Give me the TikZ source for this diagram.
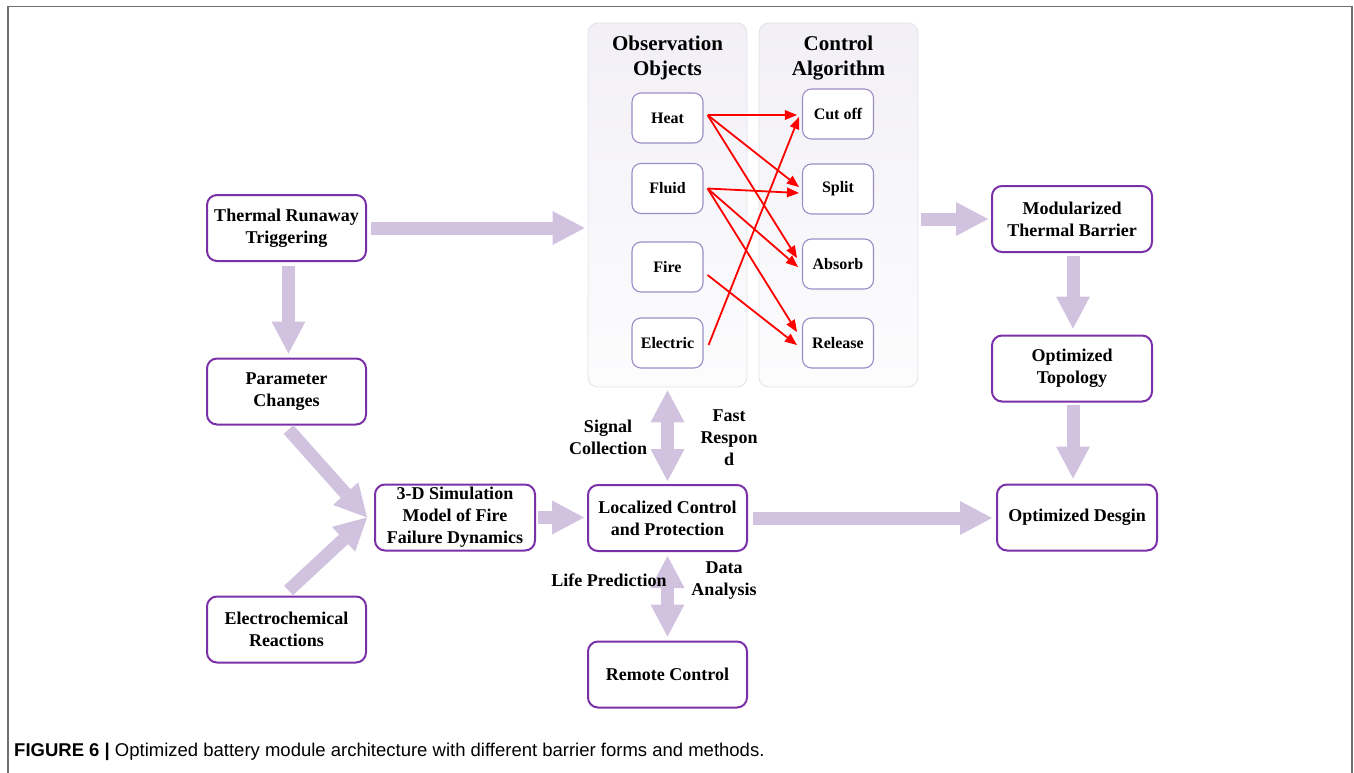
\documentclass[tikz,border=0pt]{standalone}
\usepackage{fontspec}
\setmainfont{Liberation Serif}
\newfontfamily\capfont{Liberation Sans}
\usetikzlibrary{arrows.meta}

\definecolor{boxpurple}{HTML}{7A30A8}
\definecolor{smallbd}{HTML}{9D8CC6}
\definecolor{flowlav}{HTML}{D1C3DF}
\definecolor{panelbd}{HTML}{E3E1E8}
\definecolor{paneltop}{HTML}{F2F0F6}
\definecolor{panelmid}{HTML}{E9E4F0}
\definecolor{panelbot}{HTML}{FCFCFD}
\definecolor{framegray}{HTML}{707070}

\tikzset{
  mainbox/.style={draw=boxpurple, line width=2pt, rounded corners=10pt, fill=white,
    minimum width=159pt, minimum height=66pt, align=center, inner sep=1pt,
    font=\fontsize{18}{22}\selectfont\bfseries},
  smallbox/.style={draw=smallbd, line width=1.1pt, rounded corners=9pt, fill=white,
    minimum width=71pt, minimum height=50pt, inner sep=1pt,
    font=\fontsize{16}{20}\selectfont\bfseries},
  panel/.style={draw=panelbd, line width=0.8pt, rounded corners=10pt,
    minimum width=159pt, minimum height=364pt,
    top color=paneltop, middle color=panelmid, bottom color=panelbot},
  paneltitle/.style={align=center, inner sep=0pt, font=\fontsize{21}{25}\selectfont\bfseries},
  flowlabel/.style={align=center, inner sep=0pt, font=\fontsize{18}{22}\selectfont\bfseries},
  flow/.style={draw=flowlav, line width=13pt,
    -{Triangle[width=34pt,length=32pt,line width=0pt]}},
  twoway/.style={draw=flowlav, line width=13pt,
    {Triangle[width=34pt,length=32pt,line width=0pt]}-{Triangle[width=34pt,length=32pt,line width=0pt]}},
  signal/.style={draw=red, line width=1.8pt,
    -{Triangle[width=10pt,length=12pt,line width=0pt]}},
}

\begin{document}
\begin{tikzpicture}[x=1pt,y=-1pt]
\useasboundingbox (0,0) rectangle (1354,773);

% outer frame
\coordinate (fbl) at (8,773);
\coordinate (ftl) at (8,6.5);
\coordinate (ftr) at (1352,6.5);
\coordinate (fbr) at (1352,773);
\draw[framegray, line width=1.5pt] (fbl) -- (ftl) -- (ftr) -- (fbr);

% observation / control panels
\node[panel] (obs) at (667.5,205) {};
\node[panel] (ctl) at (838.5,205) {};
\node[paneltitle] (obst) at (667.5,58) {Observation\\Objects};
\node[paneltitle] (ctlt) at (838.5,58) {Control\\Algorithm};

% observed quantities
\node[smallbox] (heat)  at (667.5,118) {Heat};
\node[smallbox] (fluid) at (667.5,188.5) {Fluid};
\node[smallbox] (fire)  at (667.5,267) {Fire};
\node[smallbox] (elct)  at (667.5,343) {Electric};

% control actions
\node[smallbox] (cut)     at (838,114) {Cut off};
\node[smallbox] (split)   at (838,189) {Split};
\node[smallbox] (absorb)  at (838,264) {Absorb};
\node[smallbox] (release) at (838,343) {Release};

% main blocks
\node[mainbox] (trig)   at (286.5,228)   {Thermal Runaway\\Triggering};
\node[mainbox] (param)  at (286.5,391.5) {Parameter\\Changes};
\node[mainbox] (echem)  at (286.5,629.5) {Electrochemical\\Reactions};
\node[mainbox, minimum width=160pt] (sim) at (455,517.5) {3-D Simulation\\Model of Fire\\Failure Dynamics};
\node[mainbox] (loc)    at (667.5,518)   {Localized Control\\and Protection};
\node[mainbox] (remote) at (667.5,674.5) {Remote Control};
\node[mainbox, minimum width=160pt] (mod)  at (1072,219)   {Modularized\\Thermal Barrier};
\node[mainbox, minimum width=160pt] (topo) at (1072,368.5) {Optimized\\Topology};
\node[mainbox, minimum width=160pt] (des)  at (1077,517.5) {Optimized Desgin};

% broad flow arrows
\draw[flow, shorten <=4pt, shorten >=3pt] (trig.east) -- (trig.east -| obs.west);
\draw[flow, shorten <=4pt, shorten >=4pt] ([xshift=2pt]trig.south) -- ([xshift=2pt]param.north);
\draw[flow] ([shift={(2,4)}]param.south) -- ([xshift=-7pt]sim.west);
\draw[flow] ([shift={(2,-5)}]echem.north) -- ([xshift=-7pt]sim.west);
\draw[flow, shorten <=2pt, shorten >=3pt] (sim.east) -- (sim.east -| loc.west);
\draw[twoway, shorten <=3pt, shorten >=3pt] (obs.south) -- (loc.north);
\draw[twoway, shorten <=4pt, shorten >=4pt] (loc.south) -- (remote.north);
\draw[flow, shorten <=5pt, shorten >=4pt] (loc.east) -- (loc.east -| des.west);
\draw[flow, shorten <=3pt, shorten >=3pt] (mod.west -| ctl.east) -- (mod.west);
\draw[flow, shorten <=3pt, shorten >=6pt] ([xshift=1pt]mod.south) -- ([xshift=1pt]topo.north);
\draw[flow, shorten <=2pt, shorten >=5pt] ([xshift=1pt]topo.south) -- ([xshift=1pt]topo.south |- des.north);

% signal mapping
\draw[signal] ([shift={(4,-3)}]heat.east)  -- ([shift={(-5,1)}]cut.west);
\draw[signal] ([shift={(4,-3)}]heat.east)  -- ([shift={(-3,-2)}]split.west);
\draw[signal] ([shift={(4,-3)}]heat.east)  -- ([shift={(-5,-6)}]absorb.west);
\draw[signal] ([shift={(4,0)}]fluid.east)  -- ([shift={(-3,4)}]split.west);
\draw[signal] ([shift={(4,0)}]fluid.east)  -- ([shift={(-4,3)}]absorb.west);
\draw[signal] ([shift={(4,0)}]fluid.east)  -- ([shift={(-5,-11)}]release.west);
\draw[signal] ([shift={(4,8)}]fire.east)   -- ([shift={(-5,2)}]release.west);
\draw[signal] ([shift={(5,2)}]elct.east)   -- ([shift={(-3,3)}]cut.west);

% arrow labels
\node[flowlabel] (lsig)  at (608,437) {Signal\\Collection};
\node[flowlabel] (lfast) at (729,438) {Fast\\Respon\\d};
\node[flowlabel] (llife) at (609,580) {Life Prediction};
\node[flowlabel] (ldata) at (724,581) {Data\\Analysis};

% caption
\node[anchor=west, inner sep=0pt, font=\capfont\fontsize{18.5}{22}\selectfont] (cap) at (14,752)
  {\textbf{FIGURE 6 |} Optimized battery module architecture with different barrier forms and methods.};
\end{tikzpicture}
\end{document}
